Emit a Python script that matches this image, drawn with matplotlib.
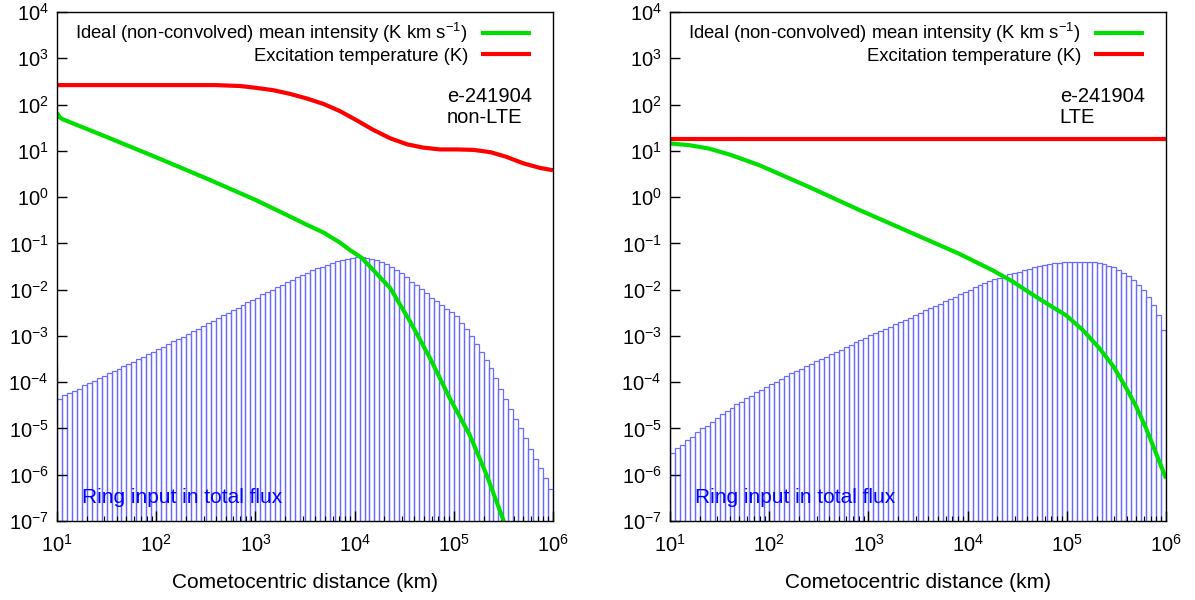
import matplotlib
matplotlib.use("Agg")
import matplotlib.pyplot as plt
import numpy as np

plt.rcParams['font.family'] = ['Liberation Sans', 'DejaVu Sans']
plt.rcParams['mathtext.fontset'] = 'custom'
plt.rcParams['mathtext.rm'] = 'Liberation Sans'
plt.rcParams['mathtext.default'] = 'regular'
plt.rcParams['axes.unicode_minus'] = False

# ring histogram: log10 of ring input, bins of 0.05 dex starting at log10(r)=0.95
bin_start = 0.95
bin_step = 0.05
ring_nonlte = [-3.65,
    -4.36, -4.28, -4.24, -4.18, -4.14, -4.07, -4.02, -3.97, -3.92, -3.87,
    -3.81, -3.76, -3.71, -3.66, -3.61, -3.56, -3.49, -3.45, -3.40, -3.35,
    -3.29, -3.24, -3.18, -3.12, -3.07, -3.02, -2.96, -2.90, -2.84, -2.79,
    -2.73, -2.67, -2.62, -2.55, -2.50, -2.45, -2.39, -2.34, -2.27, -2.22,
    -2.17, -2.10, -2.06, -2.01, -1.95, -1.89, -1.84, -1.79, -1.73, -1.68,
    -1.63, -1.58, -1.54, -1.50, -1.46, -1.43, -1.39, -1.36, -1.33, -1.31,
    -1.30, -1.30, -1.31, -1.33, -1.36, -1.40, -1.45, -1.50, -1.57, -1.64,
    -1.73, -1.83, -1.90, -1.98, -2.07, -2.17, -2.25, -2.33, -2.41, -2.49,
    -2.58, -2.72, -2.86, -3.01, -3.17, -3.34, -3.52, -3.70, -3.92, -4.14,
    -4.36, -4.58, -4.80, -5.00, -5.20, -5.45, -5.65, -5.85, -6.08, -6.31]
ring_lte = [-4.92,
    -5.54, -5.43, -5.36, -5.26, -5.18, -5.08, -5.00, -4.94, -4.85, -4.77,
    -4.69, -4.63, -4.55, -4.48, -4.42, -4.35, -4.29, -4.22, -4.16, -4.10,
    -4.05, -3.99, -3.93, -3.87, -3.81, -3.76, -3.71, -3.66, -3.60, -3.55,
    -3.50, -3.45, -3.40, -3.35, -3.30, -3.24, -3.19, -3.14, -3.09, -3.05,
    -2.99, -2.94, -2.89, -2.84, -2.80, -2.75, -2.71, -2.66, -2.62, -2.55,
    -2.50, -2.45, -2.40, -2.35, -2.30, -2.25, -2.20, -2.15, -2.10, -2.05,
    -2.00, -1.95, -1.90, -1.86, -1.82, -1.78, -1.74, -1.70, -1.67, -1.64,
    -1.61, -1.58, -1.55, -1.52, -1.49, -1.47, -1.45, -1.43, -1.42, -1.41,
    -1.40, -1.40, -1.40, -1.40, -1.40, -1.40, -1.42, -1.45, -1.48, -1.52,
    -1.58, -1.63, -1.70, -1.79, -1.89, -2.01, -2.15, -2.33, -2.55, -2.87]

# mean intensity curves (log10 r, log10 value)
green_nonlte_logr = [1.00, 1.03, 1.06, 1.5, 2.0, 2.51, 3.0, 3.3, 3.52, 3.69, 3.85, 3.95,
                     4.07, 4.19, 4.36, 4.56, 4.76, 4.96, 5.16, 5.33, 5.50, 5.55]
green_nonlte_logv = [1.82, 1.72, 1.68, 1.30, 0.86, 0.40, -0.06, -0.37, -0.60, -0.77, -0.98, -1.14,
                     -1.31, -1.58, -1.97, -2.69, -3.48, -4.35, -5.14, -6.00, -6.98, -7.3]
red_nonlte_logr = [1.0, 2.0, 2.6, 2.85, 3.01, 3.18, 3.35, 3.52, 3.69, 3.85, 4.02, 4.19,
                   4.36, 4.53, 4.69, 4.86, 5.03, 5.20, 5.37, 5.53, 5.70, 5.87, 6.0]
red_nonlte_logv = [2.42, 2.42, 2.42, 2.40, 2.36, 2.31, 2.23, 2.13, 2.01, 1.86, 1.66, 1.45,
                   1.27, 1.14, 1.07, 1.03, 1.03, 1.02, 0.97, 0.87, 0.73, 0.63, 0.58]
green_lte_logr = [1.0, 1.2, 1.39, 1.6, 1.90, 2.40, 2.91, 3.41, 3.91, 4.25, 4.45, 4.65,
                  4.82, 4.99, 5.16, 5.33, 5.47, 5.60, 5.70, 5.80, 5.88, 6.0]
green_lte_logv = [1.16, 1.12, 1.05, 0.92, 0.69, 0.22, -0.28, -0.75, -1.22, -1.58, -1.82, -2.10,
                  -2.33, -2.55, -2.87, -3.27, -3.66, -4.13, -4.53, -5.0, -5.43, -6.08]
red_lte_logr = [1.0, 6.0]
red_lte_logv = [1.25, 1.25]

panels = [
    (ring_nonlte, green_nonlte_logr, green_nonlte_logv, red_nonlte_logr, red_nonlte_logv, "non-LTE"),
    (ring_lte, green_lte_logr, green_lte_logv, red_lte_logr, red_lte_logv, "LTE"),
]

fig = plt.figure(figsize=(11.95, 6.0), dpi=100)
lefts = [57 / 1195, 670 / 1195]

for left, (ring, gx, gy, rx, ry, tag) in zip(lefts, panels):
    ax = fig.add_axes([left, 79 / 600, 496 / 1195, 509 / 600])
    edges = bin_start + bin_step * np.arange(len(ring) + 1)
    xl = 10 ** edges[:-1]
    w = 10 ** edges[1:] - xl
    ax.bar(xl, 10 ** np.array(ring) - 1e-9, width=w, bottom=1e-9, align='edge',
           fill=False, edgecolor=(0.42, 0.42, 1.0), linewidth=0.9)
    ax.plot(10 ** np.array(gx), 10 ** np.array(gy), color='#00e000', lw=3,
            label='Ideal (non-convolved) mean intensity (K km s$^{-1}$)', solid_capstyle='butt')
    ax.plot(10 ** np.array(rx), 10 ** np.array(ry), color='#ff0000', lw=3,
            label='Excitation temperature (K)', solid_capstyle='butt')
    ax.set_xscale('log')
    ax.set_yscale('log')
    ax.set_xlim(10, 1e6)
    ax.set_ylim(1e-7, 1e4)
    ax.set_yticks([10.0 ** k for k in range(-7, 5)])
    ax.tick_params(which='both', direction='in', labelsize=14.5, top=False, right=False)
    ax.tick_params(which='major', length=7, width=1)
    ax.tick_params(which='minor', length=3.5, width=0.8)
    ax.tick_params(axis='x', pad=9)
    ax.tick_params(axis='y', pad=6)
    ax.set_xlabel('Cometocentric distance (km)', fontsize=15, labelpad=13)
    for s in ax.spines.values():
        s.set_linewidth(1.0)
    ax.legend(loc='upper right', frameon=False, markerfirst=False, fontsize=13.3,
              handlelength=2.7, handletextpad=0.7, borderaxespad=0.1, labelspacing=0.12,
              bbox_to_anchor=(0.974, 1.0))
    ax.text(0.786, 0.814, 'e-241904\n' + tag, transform=ax.transAxes, fontsize=14.5,
            ha='left', va='center', linespacing=1.15)
    ax.text(0.05, 0.047, 'Ring input in total flux', transform=ax.transAxes,
            fontsize=15, color='#0000ff', ha='left', va='center')

fig.savefig('out.png', dpi=100)
